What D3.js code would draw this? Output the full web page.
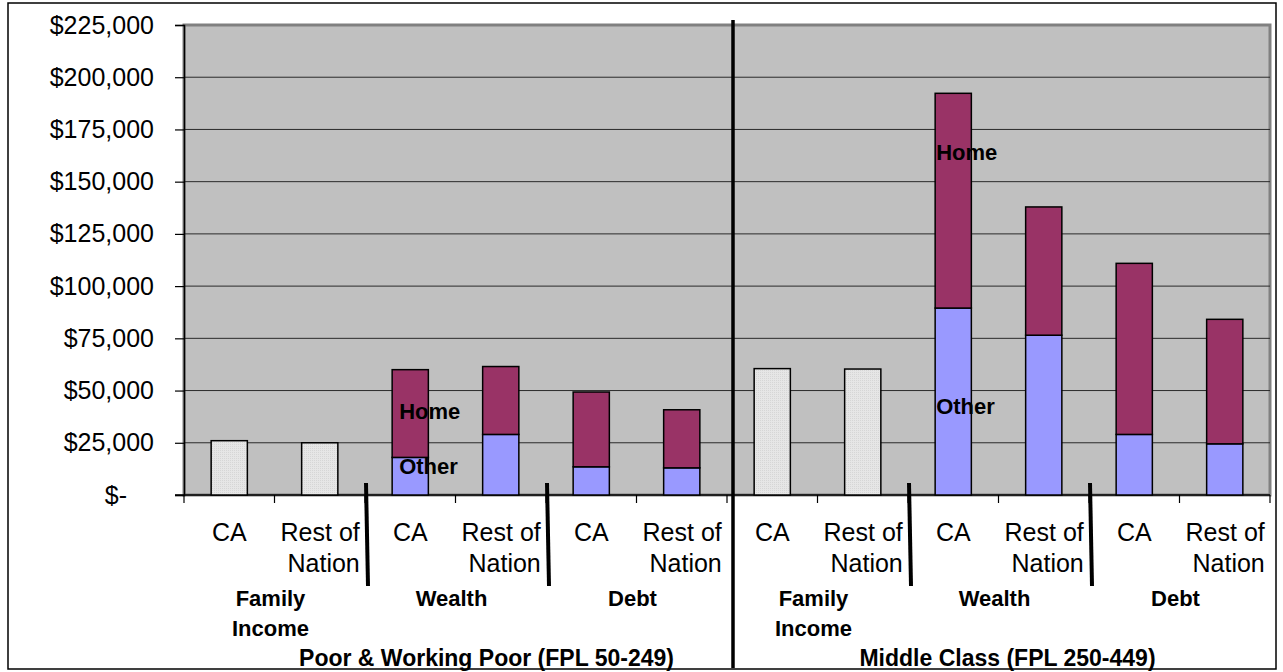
<!DOCTYPE html>
<html>
<head>
<meta charset="utf-8">
<script src="https://cdn.jsdelivr.net/npm/d3@7"></script>
<style>
  body { margin: 0; background: #fff; }
  svg { display: block; font-family: "Liberation Sans", Arial, sans-serif; }
</style>
</head>
<body>
<svg id="chart" width="1283" height="672"></svg>
<script>
// one bar per slot, in drawing order
var regions = ["CA", "Rest of Nation", "CA", "Rest of Nation", "CA", "Rest of Nation",
               "CA", "Rest of Nation", "CA", "Rest of Nation", "CA", "Rest of Nation"];
var measures = ["Family Income", "Wealth", "Debt"];
var groups = ["Poor & Working Poor (FPL 50-249)", "Middle Class (FPL 250-449)"];

// family income (plain bars)
var incomeValues = [26000, 25000, 0, 0, 0, 0, 60500, 60300, 0, 0, 0, 0];
// wealth / debt split into "Other" and "Home"
var otherValues = [0, 0, 18000, 29000, 13500, 13000, 0, 0, 89500, 76500, 29000, 24500];
var homeValues = [0, 0, 42000, 32500, 35800, 27800, 0, 0, 102800, 61400, 81900, 59600];

var yTicks = [0, 25000, 50000, 75000, 100000, 125000, 150000, 175000, 200000, 225000];

var svg = d3.select("#chart"),
  margin = {top: 25, right: 13, bottom: 177, left: 184},
  width = +svg.attr("width") - margin.left - margin.right,
  height = +svg.attr("height") - margin.top - margin.bottom;

var x = d3.scaleBand()
  .domain(d3.range(regions.length))
  .range([margin.left, margin.left + width])
  .paddingInner(0.6)
  .paddingOuter(0.3);
var y = d3.scaleLinear()
  .domain([0, 225000])
  .range([margin.top + height, margin.top]);

var step = x.step();
var x0 = margin.left;
var y0 = y(0);

// outer frame
svg.append("rect")
  .attr("x", 8).attr("y", 3)
  .attr("width", 1268).attr("height", 666)
  .attr("fill", "#fff")
  .attr("stroke", "#000")
  .attr("stroke-width", 1.5);

// texture for the income bars
var defs = svg.append("defs");
var pat = defs.append("pattern")
  .attr("id", "dots")
  .attr("width", 2).attr("height", 2)
  .attr("patternUnits", "userSpaceOnUse");
pat.append("rect").attr("width", 2).attr("height", 2).attr("fill", "#e6e6e6");
pat.append("rect").attr("width", 1).attr("height", 1).attr("fill", "#d6d6d6");

// plot area
svg.append("rect")
  .attr("x", x0).attr("y", margin.top)
  .attr("width", width).attr("height", height)
  .attr("fill", "#c0c0c0")
  .attr("stroke", "#808080")
  .attr("stroke-width", 3);

// gridlines
svg.append("g")
  .selectAll("line")
  .data(yTicks.filter(function(d) { return d > 0 && d < 225000; }))
  .enter().append("line")
  .attr("x1", x0).attr("x2", x0 + width)
  .attr("y1", function(d) { return y(d); })
  .attr("y2", function(d) { return y(d); })
  .attr("stroke", "#2a2a2a")
  .attr("stroke-width", 1);

// y axis
var yAxis = svg.append("g")
  .attr("transform", "translate(" + x0 + ",0)")
  .call(d3.axisLeft(y)
    .tickValues(yTicks)
    .tickSize(9)
    .tickPadding(21)
    .tickFormat(function(d) { return d === 0 ? "$-" : "$" + d3.format(",")(d); }));
yAxis.select(".domain").attr("stroke", "#000").attr("stroke-width", 1.5);
yAxis.selectAll(".tick line").attr("stroke", "#000").attr("stroke-width", 1.2);
yAxis.selectAll(".tick text")
  .attr("font-size", 25)
  .attr("fill", "#000")
  .attr("font-family", "Liberation Sans, Arial, sans-serif")
  .filter(function(d) { return d === 0; })
  .attr("x", -57);

// x axis line and ticks
svg.append("line")
  .attr("x1", x0 - 9).attr("x2", x0 + width)
  .attr("y1", y0).attr("y2", y0)
  .attr("stroke", "#000").attr("stroke-width", 1.5);
svg.append("g")
  .selectAll("line")
  .data(d3.range(regions.length + 1))
  .enter().append("line")
  .attr("x1", function(i) { return x0 + i * step; })
  .attr("x2", function(i) { return x0 + i * step; })
  .attr("y1", y0).attr("y2", y0 + 8)
  .attr("stroke", "#000").attr("stroke-width", 1.2);

// income bars
var bars = svg.append("g");
bars.selectAll(".income")
  .data(incomeValues.map(function(v, i) { return {i: i, v: v}; }).filter(function(d) { return d.v > 0; }))
  .enter().append("rect")
  .attr("class", "income")
  .attr("x", function(d) { return x(d.i); })
  .attr("y", function(d) { return y(d.v); })
  .attr("width", x.bandwidth())
  .attr("height", function(d) { return y0 - y(d.v); })
  .attr("fill", "url(#dots)")
  .attr("stroke", "#000")
  .attr("stroke-width", 1.5);

// stacked wealth / debt bars
var table = regions.map(function(r, i) { return {i: i, other: otherValues[i], home: homeValues[i]}; })
  .filter(function(d) { return d.other + d.home > 0; });
var stack = d3.stack().keys(["other", "home"])(table);
var colors = {other: "#9999ff", home: "#993366"};

bars.selectAll(".layer")
  .data(stack)
  .enter().append("g")
  .attr("class", "layer")
  .attr("fill", function(s) { return colors[s.key]; })
  .selectAll("rect")
  .data(function(s) { return s; })
  .enter().append("rect")
  .attr("x", function(d) { return x(d.data.i); })
  .attr("y", function(d) { return y(d[1]); })
  .attr("width", x.bandwidth())
  .attr("height", function(d) { return y(d[0]) - y(d[1]); })
  .attr("stroke", "#000")
  .attr("stroke-width", 1.5);

// series labels next to the CA wealth bars
var seriesLabels = [
  {i: 2, text: "Home", v: 40200, dx: 7},
  {i: 2, text: "Other", v: 13900, dx: 7},
  {i: 8, text: "Home", v: 164200, dx: 1},
  {i: 8, text: "Other", v: 42500, dx: 1}
];
svg.append("g")
  .selectAll("text")
  .data(seriesLabels)
  .enter().append("text")
  .attr("x", function(d) { return x(d.i) + d.dx; })
  .attr("y", function(d) { return y(d.v); })
  .attr("dy", "0.35em")
  .attr("font-size", 22)
  .attr("font-weight", "bold")
  .text(function(d) { return d.text; });

// region labels under each bar
var catG = svg.append("g").attr("font-size", 25).attr("fill", "#000");
regions.forEach(function(r, i) {
  var cx = x(i) + x.bandwidth() / 2;
  if (r === "CA") {
    catG.append("text").attr("x", cx).attr("y", 532).attr("dy", "0.35em")
      .attr("text-anchor", "middle").text(r);
  } else {
    var words = r.split(" ");
    catG.append("text").attr("x", cx + 40).attr("y", 532).attr("dy", "0.35em")
      .attr("text-anchor", "end").text(words.slice(0, 2).join(" "));
    catG.append("text").attr("x", cx + 40).attr("y", 563).attr("dy", "0.35em")
      .attr("text-anchor", "end").text(words[2]);
  }
});

// measure labels (two bars each)
var measG = svg.append("g").attr("font-size", 22).attr("font-weight", "bold");
groups.forEach(function(g, gi) {
  measures.forEach(function(m, mi) {
    var k = gi * 6 + mi * 2;
    var cx = x0 + (k + 1) * step;
    var parts = m === "Family Income" ? ["Family", "Income"] : [m];
    parts.forEach(function(p, pi) {
      measG.append("text")
        .attr("x", cx - 4).attr("y", 598 + pi * 30).attr("dy", "0.35em")
        .attr("text-anchor", "middle").text(p);
    });
  });
});

// group labels
var groupShift = [31, 9];
svg.append("g")
  .selectAll("text")
  .data(groups)
  .enter().append("text")
  .attr("x", function(d, gi) { return x0 + (gi * 6 + 3) * step + groupShift[gi]; })
  .attr("y", 658).attr("dy", "0.35em")
  .attr("text-anchor", "middle")
  .attr("font-size", 23)
  .attr("font-weight", "bold")
  .text(function(d) { return d; });

// divider lines
var dividers = [2, 4, 8, 10];
svg.append("g")
  .selectAll("line")
  .data(dividers)
  .enter().append("line")
  .attr("x1", function(k) { return x0 + k * step + 1; })
  .attr("x2", function(k) { return x0 + k * step + 3; })
  .attr("y1", 483).attr("y2", 586)
  .attr("stroke", "#000").attr("stroke-width", 4);
svg.append("line")
  .attr("x1", x0 + 6 * step + 6).attr("x2", x0 + 6 * step + 6)
  .attr("y1", 20).attr("y2", 668)
  .attr("stroke", "#000").attr("stroke-width", 3.5);
</script>
</body>
</html>
